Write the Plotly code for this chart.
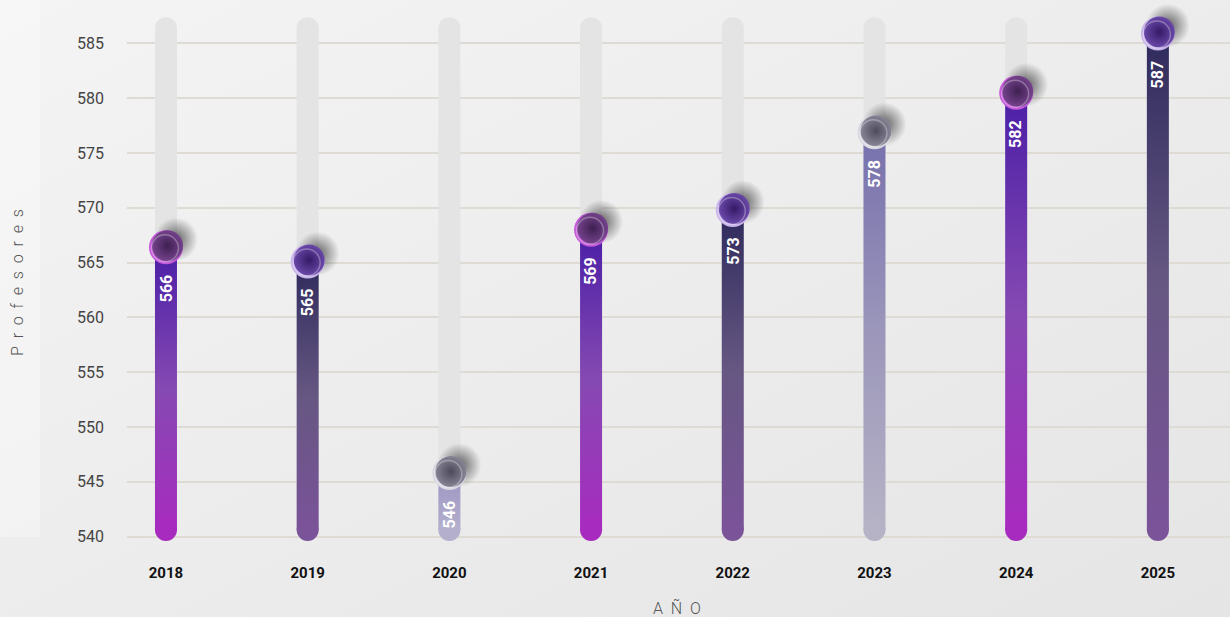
import base64
import plotly.graph_objects as go

# ---------------- data ----------------
anios = ["2018", "2019", "2020", "2021", "2022", "2023", "2024", "2025"]
profesores = [566, 565, 546, 569, 573, 578, 582, 587]          # printed values
altura_marcador = [566.4, 565.1, 545.8, 568.0, 569.8, 576.9, 580.5, 585.9]  # drawn bar tops
y_ticks = [540, 545, 550, 555, 560, 565, 570, 575, 580, 585]
estilo = ["magenta", "indigo", "lavanda", "magenta", "indigo", "gris", "magenta", "indigo"]

# ---------------- styles ----------------
barra_colores = {
    "magenta": [[0, "#a82bbf"], [0.5, "#8549b2"], [1, "#4a1ea6"]],
    "indigo": [[0, "#7a5399"], [0.5, "#665782"], [1, "#2e2a5c"]],
    "lavanda": [[0, "#b3afcc"], [1, "#9d95c4"]],
    "gris": [[0, "#b6b3c6"], [0.5, "#9b96ba"], [1, "#7670ad"]],
}
bola_colores = {  # rim, inner centre, inner edge
    "magenta": ("#c45ad8", "#3e2050", "#74428c"),
    "indigo": ("#c9b5ea", "#341a66", "#6a48a8"),
    "lavanda": ("#d9d7e2", "#4c4a5a", "#858394"),
    "gris": ("#dad9e2", "#4e4c5c", "#878596"),
}

W, H = 1230, 617
ML, MR, MT, MB = 127, 0, 4, 76
PW, PH = W - ML - MR, H - MT - MB
X_RANGE = [-0.275, 7.509]
Y_MIN, Y_MAX = 539.6, 588.6
TRACK_TOP = 587.4
KX = PW / (X_RANGE[1] - X_RANGE[0])
KY = PH / (Y_MAX - Y_MIN)
BAR_PX = 22
HW = (BAR_PX / 2) / KX
R = (BAR_PX / 2) / KY

fig = go.Figure()

# tracks
for i, a in enumerate(anios):
    fig.add_trace(go.Scatter(
        x=[i, i], y=[Y_MIN + R, TRACK_TOP - R], mode="lines+markers",
        line=dict(color="#e4e4e4", width=BAR_PX),
        marker=dict(size=BAR_PX, color="#e4e4e4", line=dict(width=0)),
        hoverinfo="skip", showlegend=False))

# coloured bars
for i, a in enumerate(anios):
    top = altura_marcador[i]
    cs = barra_colores[estilo[i]]
    fig.add_trace(go.Scatter(
        x=[i - HW, i + HW, i + HW, i - HW, i - HW],
        y=[Y_MIN + R, Y_MIN + R, top, top, Y_MIN + R],
        mode="lines", fill="toself", line=dict(width=0, color="rgba(0,0,0,0)"),
        fillcolor=cs[0][1],
        fillgradient=dict(type="vertical", colorscale=cs),
        hoverinfo="skip", showlegend=False))
    fig.add_trace(go.Scatter(
        x=[i], y=[Y_MIN + R], mode="markers",
        marker=dict(size=BAR_PX, color=cs[0][1], line=dict(width=0)),
        hoverinfo="skip", showlegend=False))

# shadows (radial: marker.color = edge, gradient.color = centre)
fig.add_trace(go.Scatter(
    x=[i + 10 / KX for i in range(len(anios))],
    y=[t + 8 / KY for t in altura_marcador],
    mode="markers",
    marker=dict(size=44, color="rgba(0,0,0,0)", line=dict(width=0),
                gradient=dict(type="radial", color="rgba(0,0,0,0.6)")),
    hoverinfo="skip", showlegend=False))

# balls
for i, a in enumerate(anios):
    rim, c0, c1 = bola_colores[estilo[i]]
    top = altura_marcador[i]
    fig.add_trace(go.Scatter(
        x=[i], y=[top], mode="markers",
        marker=dict(size=34, color=rim, line=dict(width=0)),
        hoverinfo="skip", showlegend=False))
    fig.add_trace(go.Scatter(
        x=[i + 1.5 / KX], y=[top + 1.5 / KY], mode="markers",
        marker=dict(size=31, color=c1, line=dict(width=0),
                    gradient=dict(type="radial", color=c0)),
        hoverinfo="skip", showlegend=False))
    fig.add_trace(go.Scatter(
        x=[i - 1 / KX], y=[top - 1 / KY], mode="markers",
        marker=dict(size=27, symbol="circle-open", color="rgba(255,255,255,0.3)",
                    line=dict(width=1.5, color="rgba(255,255,255,0.3)")),
        hoverinfo="skip", showlegend=False))

annotations = []
for i, a in enumerate(anios):
    annotations.append(dict(
        x=i, y=altura_marcador[i], xref="x", yref="y", text=str(profesores[i]),
        showarrow=False, textangle=-90, yshift=-41,
        font=dict(family="Roboto", size=16, color="white", weight="bold")))

annotations.append(dict(
    x=0, y=(PH + MT - 283) / PH, xref="paper", yref="paper", xshift=17 - ML,
    text="P\u00a0\u00a0r\u00a0\u00a0o\u00a0\u00a0f\u00a0\u00a0e\u00a0\u00a0s\u00a0\u00a0o\u00a0\u00a0r\u00a0\u00a0e\u00a0\u00a0s",
    showarrow=False, textangle=-90, xanchor="center", yanchor="middle",
    font=dict(family="Roboto", size=16, color="#555555", weight=300)))
annotations.append(dict(
    x=(677 - ML) / PW, y=0, xref="paper", yref="paper", yshift=-(608 - (MT + PH)),
    text="A\u00a0\u00a0Ñ\u00a0\u00a0O", showarrow=False, xanchor="center", yanchor="middle",
    font=dict(family="Roboto", size=16, color="#555555", weight=300)))

svg = (f'<svg xmlns="http://www.w3.org/2000/svg" width="{W}" height="{H}">'
       '<defs><linearGradient id="g" x1="0" y1="0" x2="1" y2="1">'
       '<stop offset="0" stop-color="#f4f4f4"/><stop offset="1" stop-color="#e5e5e5"/>'
       '</linearGradient></defs>'
       f'<rect width="{W}" height="{H}" fill="url(#g)"/>'
       '<rect width="40" height="537" fill="#ffffff" fill-opacity="0.3"/></svg>')
src = "data:image/svg+xml;base64," + base64.b64encode(svg.encode()).decode()

fig.update_layout(
    width=W, height=H,
    margin=dict(l=ML, r=MR, t=MT, b=MB),
    paper_bgcolor="#eeeeee", plot_bgcolor="rgba(0,0,0,0)",
    images=[dict(source=src, xref="paper", yref="paper", x=-ML / PW, y=1 + MT / PH,
                 sizex=W / PW, sizey=H / PH, xanchor="left", yanchor="top",
                 sizing="stretch", layer="below")],
    annotations=annotations,
    xaxis=dict(range=X_RANGE, tickvals=list(range(len(anios))), ticktext=anios,
               showgrid=False, zeroline=False, showline=False, ticks="",
               ticklabelstandoff=21,
               tickfont=dict(family="Roboto", size=15, color="#111111", weight="bold")),
    yaxis=dict(range=[Y_MIN, Y_MAX], tickvals=y_ticks, showgrid=True,
               gridcolor="#dedbd5", gridwidth=2, zeroline=False, showline=False,
               ticks="", ticklabelstandoff=22,
               tickfont=dict(family="Roboto", size=16, color="#444444")),
    showlegend=False,
)

fig.write_html("out.html", config={"displayModeBar": False},
               post_script="document.body.style.margin='0';document.body.style.overflow='hidden';")
